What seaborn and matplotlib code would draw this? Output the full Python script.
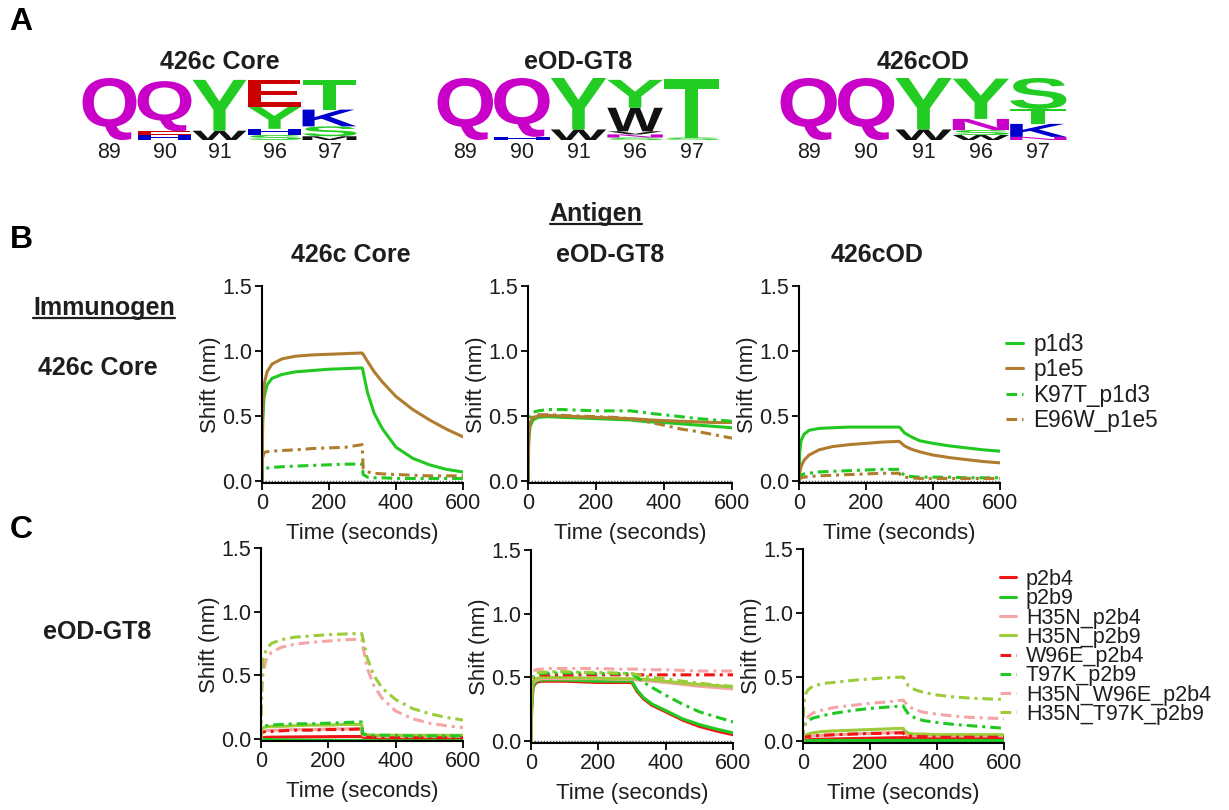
import numpy as np
import pandas as pd
import matplotlib
matplotlib.use("Agg")
import matplotlib.pyplot as plt
import seaborn as sns
from matplotlib.textpath import TextPath
from matplotlib.patches import PathPatch
from matplotlib.font_manager import FontProperties
from matplotlib.transforms import Affine2D
from matplotlib.lines import Line2D

# ---------------------------------------------------------------- data
antigens = ["426c Core", "eOD-GT8", "426cOD"]
logo_sites = ["89", "90", "91", "96", "97"]

MAG, GRN, RED, BLU, BLK = "#c800c8", "#22cc22", "#cc0000", "#0000cc", "#111111"

# sequence logos: each column is a bottom-to-top stack of (residue, height, colour)
logo_426c_core = [
    [("Q", 1.00, MAG)],
    [("H", 0.08, BLU), ("E", 0.06, RED), ("Q", 0.81, MAG)],
    [("W", 0.15, BLK), ("Y", 0.82, GRN)],
    [("S", 0.08, GRN), ("H", 0.10, BLU), ("Y", 0.36, GRN), ("E", 0.43, RED)],
    [("M", 0.06, BLK), ("S", 0.16, GRN), ("K", 0.27, BLU), ("T", 0.48, GRN)],
]
logo_eod_gt8 = [
    [("Q", 1.00, MAG)],
    [("H", 0.05, BLU), ("Q", 0.95, MAG)],
    [("W", 0.17, BLK), ("Y", 0.83, GRN)],
    [("S", 0.04, GRN), ("N", 0.05, MAG), ("V", 0.05, BLK), ("W", 0.38, BLK), ("Y", 0.45, GRN)],
    [("S", 0.04, GRN), ("T", 0.94, GRN)],
]
logo_426cod = [
    [("Q", 1.00, MAG)],
    [("Q", 1.00, MAG)],
    [("W", 0.17, BLK), ("Y", 0.83, GRN)],
    [("W", 0.08, BLK), ("S", 0.08, GRN), ("N", 0.18, MAG), ("Y", 0.65, GRN)],
    [("N", 0.05, MAG), ("K", 0.21, BLU), ("T", 0.24, GRN), ("S", 0.50, GRN)],
]

# BLI sensorgram sampling times (s)
time_s = [0, 2, 6, 15, 30, 60, 100, 150, 200, 250, 299, 302, 315, 335, 360, 400, 450, 500, 550, 600]

# immunogen 426c Core, antigen 426c Core
core_core_p1d3 = [0, 0.45, 0.64, 0.74, 0.79, 0.82, 0.84, 0.85, 0.86, 0.865, 0.87, 0.84, 0.68, 0.52, 0.40, 0.26, 0.175, 0.125, 0.09, 0.07]
core_core_p1e5 = [0, 0.55, 0.74, 0.84, 0.90, 0.94, 0.96, 0.97, 0.975, 0.98, 0.985, 0.975, 0.92, 0.84, 0.76, 0.65, 0.55, 0.47, 0.40, 0.34]
core_core_K97T_p1d3 = [0, 0.08, 0.10, 0.10, 0.105, 0.11, 0.115, 0.12, 0.125, 0.13, 0.13, 0.05, 0.03, 0.025, 0.025, 0.02, 0.02, 0.02, 0.02, 0.02]
core_core_E96W_p1e5 = [0, 0.18, 0.22, 0.225, 0.23, 0.235, 0.24, 0.25, 0.255, 0.26, 0.28, 0.10, 0.07, 0.06, 0.055, 0.05, 0.045, 0.04, 0.04, 0.04]
# immunogen 426c Core, antigen eOD-GT8
core_gt8_p1d3 = [0, 0.30, 0.42, 0.47, 0.49, 0.495, 0.49, 0.485, 0.48, 0.475, 0.47, 0.47, 0.465, 0.46, 0.455, 0.45, 0.44, 0.43, 0.42, 0.41]
core_gt8_p1e5 = [0, 0.33, 0.45, 0.49, 0.50, 0.505, 0.50, 0.495, 0.49, 0.485, 0.48, 0.48, 0.478, 0.475, 0.47, 0.465, 0.46, 0.455, 0.45, 0.45]
core_gt8_K97T_p1d3 = [0, 0.40, 0.50, 0.53, 0.54, 0.55, 0.55, 0.545, 0.54, 0.54, 0.54, 0.54, 0.535, 0.53, 0.52, 0.51, 0.495, 0.48, 0.47, 0.46]
core_gt8_E96W_p1e5 = [0, 0.38, 0.47, 0.50, 0.51, 0.51, 0.505, 0.50, 0.495, 0.49, 0.48, 0.48, 0.475, 0.465, 0.45, 0.43, 0.40, 0.38, 0.355, 0.33]
# immunogen 426c Core, antigen 426cOD
core_od_p1d3 = [0, 0.22, 0.31, 0.36, 0.39, 0.405, 0.41, 0.415, 0.415, 0.415, 0.415, 0.41, 0.37, 0.34, 0.31, 0.29, 0.27, 0.255, 0.24, 0.23]
core_od_p1e5 = [0, 0.06, 0.11, 0.16, 0.20, 0.24, 0.265, 0.28, 0.29, 0.30, 0.305, 0.30, 0.27, 0.245, 0.225, 0.20, 0.18, 0.165, 0.15, 0.14]
core_od_K97T_p1d3 = [0, 0.03, 0.045, 0.055, 0.06, 0.07, 0.075, 0.08, 0.085, 0.09, 0.09, 0.07, 0.045, 0.035, 0.03, 0.03, 0.03, 0.025, 0.025, 0.025]
core_od_E96W_p1e5 = [0, 0.015, 0.025, 0.03, 0.035, 0.04, 0.045, 0.05, 0.055, 0.06, 0.06, 0.05, 0.03, 0.025, 0.02, 0.02, 0.02, 0.02, 0.02, 0.02]

# immunogen eOD-GT8, antigen 426c Core
gt8_core_p2b4 = [0, 0.01, 0.012, 0.014, 0.015, 0.016, 0.017, 0.018, 0.019, 0.02, 0.02, 0.015, 0.012, 0.01, 0.01, 0.01, 0.01, 0.01, 0.01, 0.01]
gt8_core_p2b9 = [0, 0.0, -0.002, -0.004, -0.005, -0.007, -0.008, -0.009, -0.01, -0.011, -0.012, -0.012, -0.012, -0.012, -0.012, -0.012, -0.012, -0.012, -0.012, -0.012]
gt8_core_H35N_p2b4 = [0, 0.05, 0.06, 0.065, 0.07, 0.07, 0.075, 0.075, 0.08, 0.08, 0.08, 0.03, 0.025, 0.02, 0.02, 0.02, 0.02, 0.02, 0.02, 0.02]
gt8_core_H35N_p2b9 = [0, 0.08, 0.09, 0.095, 0.10, 0.10, 0.105, 0.11, 0.11, 0.115, 0.115, 0.04, 0.035, 0.03, 0.03, 0.03, 0.03, 0.03, 0.03, 0.03]
gt8_core_W96E_p2b4 = [0, 0.05, 0.055, 0.06, 0.06, 0.065, 0.07, 0.07, 0.075, 0.075, 0.08, 0.02, 0.015, 0.015, 0.01, 0.01, 0.01, 0.01, 0.01, 0.01]
gt8_core_T97K_p2b9 = [0, 0.09, 0.10, 0.105, 0.11, 0.115, 0.12, 0.12, 0.125, 0.13, 0.135, 0.04, 0.035, 0.03, 0.03, 0.03, 0.025, 0.025, 0.025, 0.025]
gt8_core_H35N_W96E_p2b4 = [0, 0.35, 0.52, 0.62, 0.68, 0.72, 0.745, 0.76, 0.77, 0.78, 0.785, 0.74, 0.56, 0.42, 0.32, 0.22, 0.16, 0.125, 0.105, 0.09]
gt8_core_H35N_T97K_p2b9 = [0, 0.45, 0.62, 0.70, 0.75, 0.78, 0.80, 0.81, 0.82, 0.825, 0.83, 0.80, 0.64, 0.50, 0.40, 0.31, 0.24, 0.20, 0.17, 0.15]
# immunogen eOD-GT8, antigen eOD-GT8
gt8_gt8_p2b4 = [0, 0.25, 0.42, 0.46, 0.47, 0.47, 0.47, 0.465, 0.46, 0.46, 0.46, 0.45, 0.39, 0.33, 0.28, 0.23, 0.165, 0.115, 0.08, 0.05]
gt8_gt8_p2b9 = [0, 0.26, 0.43, 0.47, 0.48, 0.48, 0.48, 0.475, 0.47, 0.47, 0.47, 0.46, 0.40, 0.34, 0.29, 0.24, 0.175, 0.13, 0.095, 0.065]
gt8_gt8_H35N_p2b4 = [0, 0.35, 0.46, 0.48, 0.49, 0.49, 0.49, 0.49, 0.49, 0.485, 0.485, 0.485, 0.48, 0.475, 0.47, 0.46, 0.445, 0.43, 0.42, 0.41]
gt8_gt8_H35N_p2b9 = [0, 0.36, 0.47, 0.49, 0.50, 0.50, 0.50, 0.495, 0.495, 0.49, 0.49, 0.49, 0.488, 0.485, 0.48, 0.47, 0.455, 0.445, 0.435, 0.425]
gt8_gt8_W96E_p2b4 = [0, 0.40, 0.50, 0.51, 0.52, 0.52, 0.52, 0.52, 0.52, 0.52, 0.52, 0.52, 0.52, 0.52, 0.52, 0.52, 0.52, 0.52, 0.52, 0.52]
gt8_gt8_T97K_p2b9 = [0, 0.38, 0.50, 0.52, 0.53, 0.535, 0.535, 0.535, 0.53, 0.53, 0.53, 0.525, 0.50, 0.46, 0.42, 0.36, 0.29, 0.23, 0.19, 0.15]
gt8_gt8_H35N_W96E_p2b4 = [0, 0.45, 0.55, 0.56, 0.565, 0.57, 0.57, 0.57, 0.57, 0.565, 0.565, 0.565, 0.565, 0.56, 0.56, 0.56, 0.555, 0.55, 0.55, 0.55]
gt8_gt8_H35N_T97K_p2b9 = [0, 0.40, 0.52, 0.535, 0.54, 0.545, 0.545, 0.54, 0.54, 0.535, 0.53, 0.53, 0.52, 0.51, 0.50, 0.49, 0.47, 0.455, 0.44, 0.43]
# immunogen eOD-GT8, antigen 426cOD
gt8_od_p2b4 = [0, 0.005, 0.008, 0.01, 0.012, 0.015, 0.017, 0.02, 0.022, 0.025, 0.027, 0.027, 0.026, 0.025, 0.025, 0.025, 0.025, 0.025, 0.025, 0.025]
gt8_od_p2b9 = [0, 0.0, 0.002, 0.003, 0.004, 0.005, 0.005, 0.005, 0.005, 0.005, 0.005, 0.005, 0.005, 0.005, 0.005, 0.005, 0.005, 0.005, 0.005, 0.005]
gt8_od_H35N_p2b4 = [0, 0.02, 0.03, 0.035, 0.04, 0.045, 0.05, 0.055, 0.06, 0.065, 0.07, 0.06, 0.045, 0.04, 0.04, 0.04, 0.04, 0.04, 0.04, 0.04]
gt8_od_H35N_p2b9 = [0, 0.03, 0.045, 0.055, 0.065, 0.075, 0.08, 0.085, 0.09, 0.095, 0.10, 0.085, 0.06, 0.055, 0.055, 0.05, 0.05, 0.05, 0.05, 0.05]
gt8_od_W96E_p2b4 = [0, 0.02, 0.03, 0.035, 0.04, 0.045, 0.05, 0.055, 0.06, 0.06, 0.065, 0.055, 0.04, 0.035, 0.035, 0.03, 0.03, 0.03, 0.03, 0.03]
gt8_od_T97K_p2b9 = [0, 0.09, 0.13, 0.16, 0.18, 0.20, 0.22, 0.24, 0.255, 0.265, 0.275, 0.26, 0.21, 0.18, 0.16, 0.145, 0.13, 0.12, 0.11, 0.10]
gt8_od_H35N_W96E_p2b4 = [0, 0.10, 0.15, 0.19, 0.22, 0.245, 0.265, 0.28, 0.295, 0.305, 0.32, 0.31, 0.27, 0.245, 0.225, 0.21, 0.195, 0.185, 0.18, 0.175]
gt8_od_H35N_T97K_p2b9 = [0, 0.28, 0.36, 0.40, 0.43, 0.45, 0.46, 0.475, 0.485, 0.495, 0.50, 0.49, 0.43, 0.40, 0.38, 0.36, 0.345, 0.335, 0.33, 0.325]

core_clones = ["p1d3", "p1e5", "K97T_p1d3", "E96W_p1e5"]
gt8_clones = ["p2b4", "p2b9", "H35N_p2b4", "H35N_p2b9",
              "W96E_p2b4", "T97K_p2b9", "H35N_W96E_p2b4", "H35N_T97K_p2b9"]

panel_series = {
    ("B", "426c Core"): [core_core_p1d3, core_core_p1e5, core_core_K97T_p1d3, core_core_E96W_p1e5],
    ("B", "eOD-GT8"): [core_gt8_p1d3, core_gt8_p1e5, core_gt8_K97T_p1d3, core_gt8_E96W_p1e5],
    ("B", "426cOD"): [core_od_p1d3, core_od_p1e5, core_od_K97T_p1d3, core_od_E96W_p1e5],
    ("C", "426c Core"): [gt8_core_p2b4, gt8_core_p2b9, gt8_core_H35N_p2b4, gt8_core_H35N_p2b9,
                         gt8_core_W96E_p2b4, gt8_core_T97K_p2b9, gt8_core_H35N_W96E_p2b4, gt8_core_H35N_T97K_p2b9],
    ("C", "eOD-GT8"): [gt8_gt8_p2b4, gt8_gt8_p2b9, gt8_gt8_H35N_p2b4, gt8_gt8_H35N_p2b9,
                       gt8_gt8_W96E_p2b4, gt8_gt8_T97K_p2b9, gt8_gt8_H35N_W96E_p2b4, gt8_gt8_H35N_T97K_p2b9],
    ("C", "426cOD"): [gt8_od_p2b4, gt8_od_p2b9, gt8_od_H35N_p2b4, gt8_od_H35N_p2b9,
                      gt8_od_W96E_p2b4, gt8_od_T97K_p2b9, gt8_od_H35N_W96E_p2b4, gt8_od_H35N_T97K_p2b9],
}

# ---------------------------------------------------------------- style
sns.set_style("ticks")
plt.rcParams["font.family"] = ["Liberation Sans", "DejaVu Sans"]
TXT = "#1e1e1e"

C_GREEN, C_BROWN = "#22c822", "#b07c2e"
C_RED, C_PINK, C_YG = "#f01414", "#f5a5a5", "#9ccc3a"
SOLID, DASHDOT = "", (3.5, 1.6, 1.0, 1.6)

core_palette = {"p1d3": C_GREEN, "p1e5": C_BROWN, "K97T_p1d3": C_GREEN, "E96W_p1e5": C_BROWN}
core_dashes = {"p1d3": SOLID, "p1e5": SOLID, "K97T_p1d3": DASHDOT, "E96W_p1e5": DASHDOT}
gt8_palette = {"p2b4": C_RED, "p2b9": C_GREEN, "H35N_p2b4": C_PINK, "H35N_p2b9": C_YG,
               "W96E_p2b4": C_RED, "T97K_p2b9": C_GREEN, "H35N_W96E_p2b4": C_PINK,
               "H35N_T97K_p2b9": C_YG}
gt8_dashes = {k: (SOLID if i < 4 else DASHDOT) for i, k in enumerate(gt8_clones)}

rows = []
for (row, antigen), series in panel_series.items():
    names = core_clones if row == "B" else gt8_clones
    for name, vals in zip(names, series):
        for t, v in zip(time_s, vals):
            rows.append((row, antigen, name, t, v))
df = pd.DataFrame(rows, columns=["row", "antigen", "clone", "time", "shift"])

W, H = 1229, 810
fig = plt.figure(figsize=(W / 100, H / 100), dpi=100)
fig.patch.set_facecolor("white")


def px_axes(left, right, top, bottom):
    return fig.add_axes([left / W, 1 - bottom / H, (right - left) / W, (bottom - top) / H])


# ---------------------------------------------------------------- logos
bold_fp = FontProperties(family="Liberation Sans", weight="bold")


def draw_letter(ax, ch, x0, y0, w, h, color):
    tp = TextPath((0, 0), ch, size=1, prop=bold_fp)
    bb = tp.get_extents()
    tr = Affine2D().translate(-bb.x0, -bb.y0).scale(w / bb.width, h / bb.height).translate(x0, y0)
    ax.add_patch(PathPatch(tr.transform_path(tp), fc=color, ec="none", lw=0))


logo_boxes = [(82, 357), (437, 720), (780, 1067)]
for (l, r), title, logo in zip(logo_boxes, antigens, [logo_426c_core, logo_eod_gt8, logo_426cod]):
    ax = px_axes(l, r, 78, 140)
    for i, col in enumerate(logo):
        y = 0.0
        for ch, h, c in col:
            draw_letter(ax, ch, i + 0.5 + 0.01, y, 0.98, h, c)
            y += h
    ax.set_xlim(0.5, 5.5)
    ax.set_ylim(0, 1)
    ax.set_xticks(range(1, 6))
    ax.set_xticklabels(logo_sites, fontsize=15.5, color=TXT)
    ax.tick_params(axis="x", length=0, pad=1.5)
    ax.set_yticks([])
    for s in ax.spines.values():
        s.set_visible(False)
    ax.patch.set_alpha(0)
    fig.text((l + r) / 2 / W, 1 - 62 / H, title, ha="center", va="center",
             fontsize=18, fontweight="bold", color=TXT)

# ---------------------------------------------------------------- sensorgrams
axes_px = {
    ("B", "426c Core"): (262, 463, 286, 483),
    ("B", "eOD-GT8"): (528, 732, 286, 483),
    ("B", "426cOD"): (799, 1000, 286, 483),
    ("C", "426c Core"): (261, 463, 548, 741),
    ("C", "eOD-GT8"): (531, 733, 550, 743),
    ("C", "426cOD"): (803, 1004, 549, 743),
}

for (row, antigen), (l, r, t, b) in axes_px.items():
    ax = px_axes(l, r, t, b)
    sub = df[(df.row == row) & (df.antigen == antigen)]
    order = core_clones if row == "B" else gt8_clones
    pal = core_palette if row == "B" else gt8_palette
    dsh = core_dashes if row == "B" else gt8_dashes
    ax.axhline(0, color="#555555", lw=1.0, ls=(0, (1, 1.2)), zorder=1)
    sns.lineplot(data=sub, x="time", y="shift", hue="clone", style="clone",
                 hue_order=order, style_order=order, palette=pal, dashes=dsh,
                 estimator=None, sort=False, legend=False, lw=2.2, ax=ax)
    ax.set_xlim(0, 600)
    ax.set_ylim(-0.015, 1.5)
    ax.set_xticks([0, 200, 400, 600])
    ax.set_yticks([0.0, 0.5, 1.0, 1.5])
    ax.set_yticklabels(["0.0", "0.5", "1.0", "1.5"])
    ax.tick_params(labelsize=15.5, colors=TXT, length=5, width=1.3, pad=2)
    ax.tick_params(axis="both", color="black")
    for s in ("top", "right"):
        ax.spines[s].set_visible(False)
    for s in ("left", "bottom"):
        ax.spines[s].set_linewidth(1.5)
        ax.spines[s].set_color("black")
    ax.set_xlabel("Time (seconds)", fontsize=16, color=TXT, labelpad=7)
    ax.set_ylabel("Shift (nm)", fontsize=16, color=TXT, labelpad=1)
    ax.patch.set_alpha(0)

# ---------------------------------------------------------------- legends
def add_legend(names, pal, dsh, x, y, size, spacing):
    handles = []
    for n in names:
        ls = "-" if dsh[n] == SOLID else (0, dsh[n])
        handles.append(Line2D([], [], color=pal[n], lw=2.2, ls=ls))
    fig.legend(handles, names, loc="upper left", bbox_to_anchor=(x / W, 1 - y / H),
               frameon=False, fontsize=size, handlelength=0.75, handletextpad=0.45,
               labelspacing=spacing, borderpad=0, borderaxespad=0, labelcolor=TXT)


add_legend(core_clones, core_palette, core_dashes, 1006, 333, 16.3, 0.1)
add_legend(gt8_clones, gt8_palette, gt8_dashes, 1000, 569, 15.5, -0.08)

# ---------------------------------------------------------------- annotations
for x, lab in zip([351, 610, 877], antigens):
    fig.text(x / W, 1 - 255 / H, lab, ha="center", va="center",
             fontsize=18, fontweight="bold", color=TXT)

for x, y, lab in [(21, 22, "A"), (21, 240, "B"), (21, 530, "C")]:
    fig.text(x / W, 1 - y / H, lab, ha="center", va="center",
             fontsize=23, fontweight="bold", color="black")

fig.text(98 / W, 1 - 368 / H, "426c Core", ha="center", va="center",
         fontsize=18, fontweight="bold", color=TXT)
fig.text(97 / W, 1 - 632 / H, "eOD-GT8", ha="center", va="center",
         fontsize=18, fontweight="bold", color=TXT)


def underlined(x, y_base, s):
    t = fig.text(x / W, 1 - y_base / H, s, ha="center", va="baseline",
                 fontsize=18, fontweight="bold", color=TXT)
    fig.canvas.draw()
    bb = t.get_window_extent()
    yl = 1 - (y_base + 3) / H
    fig.add_artist(Line2D([bb.x0 / W, bb.x1 / W], [yl, yl], transform=fig.transFigure,
                          color=TXT, lw=1.6))


underlined(104, 315, "Immunogen")
underlined(596, 221, "Antigen")

fig.savefig("out.png", dpi=100, facecolor="white")
